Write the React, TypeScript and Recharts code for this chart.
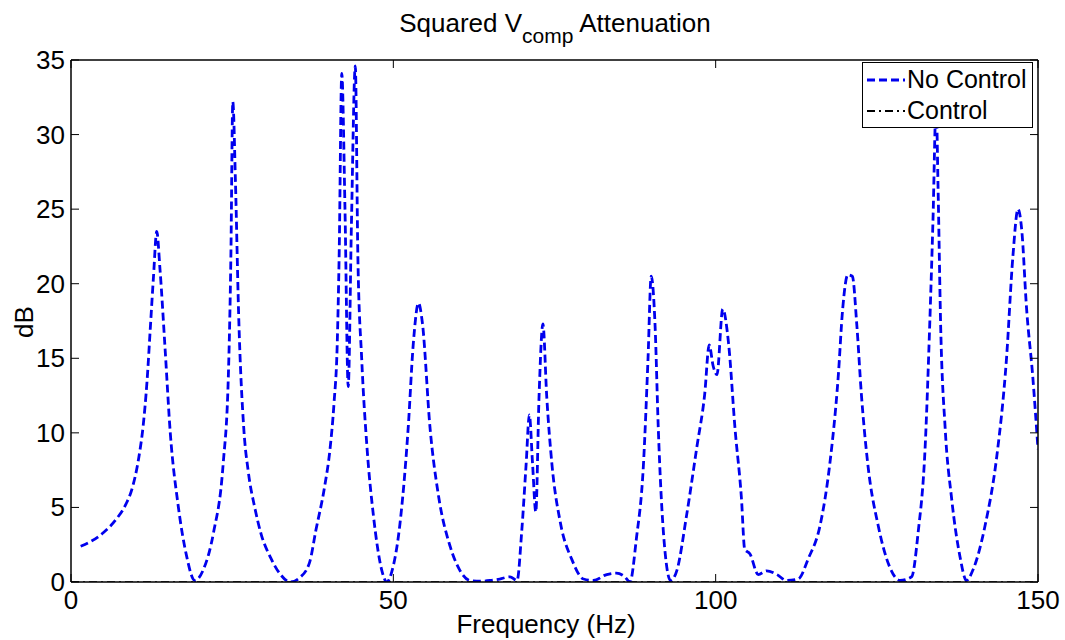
import { LineChart, Line, XAxis, YAxis } from "recharts";

const FONT = "'Liberation Sans', Arial, Helvetica, sans-serif";

// frequency (Hz) and attenuation (dB)
const freq = [
  1.5, 3, 5, 7, 8.5, 9.5, 10.5, 11.2, 11.8, 12.3, 12.8, 13.3, 13.8, 14.6, 15.4, 16.6, 17.9, 19.2, 20.5, 22.1,
  23.6, 24.4, 24.8, 25.1, 25.5, 26.0, 26.8, 27.5, 28.5, 29.5, 31, 32.5, 34, 35.5, 37, 38.0, 39.3, 40.2, 40.8, 41.3,
  41.6, 42.0, 42.5, 43.0, 43.5, 44.1, 44.5, 45.1, 45.9, 46.9, 48.2, 49.0, 49.7, 51.0, 52.3, 53.1, 53.9, 54.5, 55.7, 57.0,
  58.8, 60.3, 61.9, 63.5, 65, 66.5, 68.1, 69.2, 69.9, 70.6, 71.1, 71.6, 72.1, 72.6, 73.2, 73.8, 74.6, 75.9, 77.7, 79.5,
  81, 83.1, 84.6, 85.9, 86.7, 87.7, 88.8, 89.5, 90.0, 90.6, 91.1, 91.9, 93.0, 94.0, 95.5, 97.1, 98.3, 99.0, 99.6, 100.2,
  101.1, 102, 103, 104, 104.5, 105.3, 106.6, 107.9, 109.5, 111, 112.8, 114.4, 116.2, 117.7, 119.0, 119.7, 120.5, 121.2, 121.9, 122.6,
  123.6, 125.2, 127, 128.6, 130.4, 131.4, 132.5, 133.2, 133.7, 134.2, 134.5, 134.9, 135.6, 136.6, 137.9, 138.9, 139.9, 141.8, 143.6, 145.1,
  146.1, 146.9, 147.5, 148.2, 149.2, 150,
];
const noControl = [
  2.4, 2.7, 3.3, 4.2, 5.2, 6.3, 8.3, 10.5, 13.5, 17, 20.5, 23.5, 21, 15.6, 10, 5.2, 1.8, 0.1, 0.8, 3.3,
  7.9, 13.7, 21.8, 32.2, 27, 18, 10.3, 7.4, 5, 3.2, 1.6, 0.5, 0.0, 0.3, 1.3, 3.5, 6.3, 9, 12, 16,
  22, 34.1, 25, 13.1, 24, 34.6, 21.8, 14.9, 9.1, 4.5, 0.8, 0.0, 0.6, 3.8, 10.3, 16, 18.7, 17.4, 10.3, 5.8,
  2.4, 0.8, 0.1, 0.05, 0.1, 0.2, 0.35, 0.1, 3.3, 7.9, 11.2, 7.9, 4.7, 12.4, 17.3, 12.4, 7.9, 4.0, 1.5, 0.2,
  0.1, 0.5, 0.6, 0.35, 0, 2.9, 7.9, 14.9, 20.5, 17.2, 10.3, 3.3, 0.1, 0.8, 4.5, 9.1, 12.6, 15.9, 14.5, 13.9,
  18.3, 16, 10.3, 5.6, 2.2, 1.9, 0.5, 0.75, 0.5, 0.1, 0.2, 1.6, 3.8, 7.9, 13.7, 18.3, 20.6, 20.5, 17.2, 12.6,
  7.9, 3.8, 1.0, 0.1, 0.35, 3.3, 9.1, 17.2, 24.1, 32, 26.4, 17.2, 10.3, 5.6, 1.7, 0.1, 0.8, 3.8, 8.4, 14.9,
  21.8, 25.0, 23.5, 18.5, 13.7, 8.9,
];

const controlFreq = [0, 25, 50, 75, 100, 125, 150];
const control = [0, 0, 0, 0, 0, 0, 0];

const xTicks = [0, 50, 100, 150];
const yTicks = [0, 5, 10, 15, 20, 25, 30, 35];

const data = freq.map((f, i) => ({ f, noControl: noControl[i] }));
const controlData = controlFreq.map((f, i) => ({ f, control: control[i] }));

const TICK = 8;

// ticks point into the plot, labels sit outside (matlab style box)
const BottomTick = (p: any) => (
  <g>
    <line x1={p.x} x2={p.x} y1={p.y} y2={p.y - TICK} stroke="#000" strokeWidth={1} />
    <text x={p.x} y={p.y + 27} textAnchor="middle" fontSize={26} fontFamily={FONT} fill="#000">
      {p.payload.value}
    </text>
  </g>
);
const LeftTick = (p: any) => (
  <g>
    <line x1={p.x} x2={p.x + TICK} y1={p.y} y2={p.y} stroke="#000" strokeWidth={1} />
    <text x={p.x - 6} y={p.y + 9} textAnchor="end" fontSize={26} fontFamily={FONT} fill="#000">
      {p.payload.value}
    </text>
  </g>
);
const TopTick = (p: any) => <line x1={p.x} x2={p.x} y1={p.y} y2={p.y + TICK} stroke="#000" strokeWidth={1} />;
const RightTick = (p: any) => <line x1={p.x} x2={p.x - TICK} y1={p.y} y2={p.y} stroke="#000" strokeWidth={1} />;

const axisLine = { stroke: "#000", strokeWidth: 1.5 };

function LegendBox() {
  return (
    <div
      style={{
        position: "absolute",
        left: 862,
        top: 62,
        width: 169,
        height: 64,
        background: "#fff",
        border: "1px solid #000",
        fontFamily: FONT,
        fontSize: 25,
        color: "#000",
        zIndex: 3,
      }}
    >
      <div style={{ display: "flex", alignItems: "center", height: 33 }}>
        <svg width={42} height={10} style={{ marginLeft: 2 }}>
          <line x1={2} y1={5} x2={40} y2={5} stroke="#0000ee" strokeWidth={2.8} strokeDasharray="8 4" />
        </svg>
        <span>No Control</span>
      </div>
      <div style={{ display: "flex", alignItems: "center", height: 29 }}>
        <svg width={42} height={10} style={{ marginLeft: 2 }}>
          <line x1={2} y1={5} x2={40} y2={5} stroke="#000" strokeWidth={2} strokeDasharray="8 4 2 4" />
        </svg>
        <span>Control</span>
      </div>
    </div>
  );
}

export default function App() {
  return (
    <div style={{ position: "absolute", left: 0, top: 0, width: 1065, height: 640, background: "#fff" }}>
      <LineChart width={1065} height={640} data={data} margin={{ top: 59, right: 26, bottom: 0, left: 70 }}>
        <XAxis
          xAxisId="x"
          type="number"
          dataKey="f"
          domain={[0, 150]}
          ticks={xTicks}
          allowDataOverflow
          height={58}
          tickLine={false}
          tickSize={0}
          tickMargin={0}
          tick={<BottomTick />}
          axisLine={axisLine}
        />
        <XAxis
          xAxisId="xtop"
          orientation="top"
          type="number"
          dataKey="f"
          domain={[0, 150]}
          ticks={xTicks}
          allowDataOverflow
          height={1}
          tickLine={false}
          tickSize={0}
          tickMargin={0}
          tick={<TopTick />}
          axisLine={axisLine}
        />
        <YAxis
          yAxisId="y"
          type="number"
          domain={[0, 35]}
          ticks={yTicks}
          allowDataOverflow
          width={1}
          tickLine={false}
          tickSize={0}
          tickMargin={0}
          tick={<LeftTick />}
          axisLine={axisLine}
        />
        <YAxis
          yAxisId="yr"
          orientation="right"
          type="number"
          domain={[0, 35]}
          ticks={yTicks}
          allowDataOverflow
          width={1}
          tickLine={false}
          tickSize={0}
          tickMargin={0}
          tick={<RightTick />}
          axisLine={axisLine}
        />
        <Line
          xAxisId="xtop"
          yAxisId="yr"
          name="Control"
          data={controlData}
          dataKey="control"
          type="linear"
          stroke="#000"
          strokeWidth={1.5}
          strokeDasharray="8 4 2 4"
          dot={false}
          isAnimationActive={false}
        />
        <Line
          xAxisId="x"
          yAxisId="y"
          name="No Control"
          dataKey="noControl"
          type="monotone"
          stroke="#0000ee"
          strokeWidth={2.8}
          strokeDasharray="8 4"
          dot={false}
          isAnimationActive={false}
        />
      </LineChart>
      <svg width={1065} height={640} style={{ position: "absolute", left: 0, top: 0, pointerEvents: "none", zIndex: 2 }}>
        <text x={555} y={32} textAnchor="middle" fontFamily={FONT} fontSize={26} fill="#000">
          Squared V
          <tspan fontSize={21} dy={11}>comp</tspan>
          <tspan dy={-11}> Attenuation</tspan>
        </text>
        <text x={546} y={633} textAnchor="middle" fontFamily={FONT} fontSize={26} fill="#000">
          Frequency (Hz)
        </text>
        <text x={33} y={322} textAnchor="middle" fontFamily={FONT} fontSize={26} fill="#000" transform="rotate(-90 33 322)">
          dB
        </text>
      </svg>
      <LegendBox />
    </div>
  );
}
